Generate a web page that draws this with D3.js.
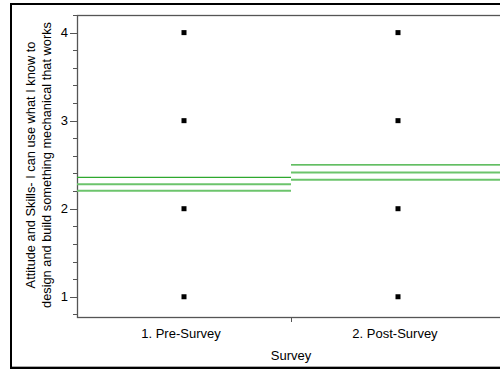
<!DOCTYPE html>
<html>
<head>
<meta charset="utf-8">
<script src="https://cdn.jsdelivr.net/npm/d3@7"></script>
<style>
  body { margin: 0; background: #fff; }
  svg { display: block; font-family: "Liberation Sans", Arial, sans-serif; }
</style>
</head>
<body>
<div id="chart"></div>
<script>
var groups = ["1. Pre-Survey", "2. Post-Survey"];
// responses seen for each group
var responses = [1, 2, 3, 4];
// mean and interval lines per group: upper, mean, lower
var upper = [2.355, 2.497];
var means = [2.277, 2.412];
var lower = [2.205, 2.33];
var yTicks = [1, 2, 3, 4];

var width = 500, height = 373;
var margin = {top: 15, right: -5, bottom: 56, left: 77};

var svg = d3.select("#chart").append("svg")
    .attr("width", width)
    .attr("height", height);

// outer frame
svg.append("rect").attr("x", 11).attr("y", 4).attr("width", 500).attr("height", 364)
    .attr("fill", "none").attr("stroke", "#000").attr("stroke-width", 2);
svg.append("line").attr("x1", 12).attr("x2", 500).attr("y1", 366.5).attr("y2", 366.5)
    .attr("stroke", "#aaa").attr("stroke-width", 1);

var x = d3.scaleBand()
    .domain(groups)
    .range([margin.left, width - margin.right]);

var y = d3.scaleLinear()
    .domain([0.77, 4.2])
    .range([height - margin.bottom, margin.top]);

var g = svg.append("g");

// plot frame
g.append("rect")
    .attr("x", margin.left + 0.5).attr("y", y(4.2) + 0.5)
    .attr("width", x.range()[1] - margin.left).attr("height", y(0.77) - y(4.2))
    .attr("fill", "none").attr("stroke", "#555").attr("stroke-width", 1.3);

// y axis ticks
var minor = d3.range(0.8, 4.21, 0.2);
g.selectAll(".minor").data(minor).enter().append("line")
    .attr("x1", margin.left - 4).attr("x2", margin.left)
    .attr("y1", d => Math.round(y(d)) + 0.5).attr("y2", d => Math.round(y(d)) + 0.5)
    .attr("stroke", "#555");
g.selectAll(".major").data(yTicks).enter().append("line")
    .attr("x1", margin.left - 7).attr("x2", margin.left)
    .attr("y1", d => Math.round(y(d)) + 0.5).attr("y2", d => Math.round(y(d)) + 0.5)
    .attr("stroke", "#555");
g.selectAll(".ylab").data(yTicks).enter().append("text")
    .attr("x", margin.left - 9).attr("y", d => y(d) + 4.5)
    .attr("text-anchor", "end").attr("font-size", 13).text(d => d);

// x axis
g.append("line")
    .attr("x1", x(groups[1]) + 0.5).attr("x2", x(groups[1]) + 0.5)
    .attr("y1", y(0.77)).attr("y2", y(0.77) + 5)
    .attr("stroke", "#555");
g.selectAll(".xlab").data(groups).enter().append("text")
    .attr("x", d => x(d) + x.bandwidth() / 2 - 3).attr("y", 338)
    .attr("text-anchor", "middle").attr("font-size", 13).text(d => d);
g.append("text").attr("x", 291).attr("y", 360)
    .attr("text-anchor", "middle").attr("font-size", 13).text("Survey");

// y title
var yt = g.append("text").attr("transform", "translate(35,165) rotate(-90)")
    .attr("text-anchor", "middle").attr("font-size", 12.8);
yt.append("tspan").attr("x", 0).attr("dy", 0).text("Attitude and Skills- I can use what I know to");
yt.append("tspan").attr("x", 0).attr("dy", 16).text("design and build something mechanical that works");

// interval lines
var lineSets = [
    {vals: upper, color: "#2ea82e", w: 1.2},
    {vals: means, color: "#6cc46c", w: 2},
    {vals: lower, color: "#6cc46c", w: 2}
];
lineSets.forEach(function(s) {
    g.selectAll(null).data(groups).enter().append("line")
        .attr("x1", d => x(d)).attr("x2", d => x(d) + x.bandwidth())
        .attr("y1", (d, i) => y(s.vals[i])).attr("y2", (d, i) => y(s.vals[i]))
        .attr("stroke", s.color).attr("stroke-width", s.w);
});

// points
var pts = [];
groups.forEach(gr => responses.forEach(r => pts.push({g: gr, v: r})));
g.selectAll(".pt").data(pts).enter().append("rect")
    .attr("x", d => x(d.g) + x.bandwidth() / 2 - 2.5)
    .attr("y", d => y(d.v) - 2.5)
    .attr("width", 5).attr("height", 5).attr("fill", "#000");
</script>
</body>
</html>
